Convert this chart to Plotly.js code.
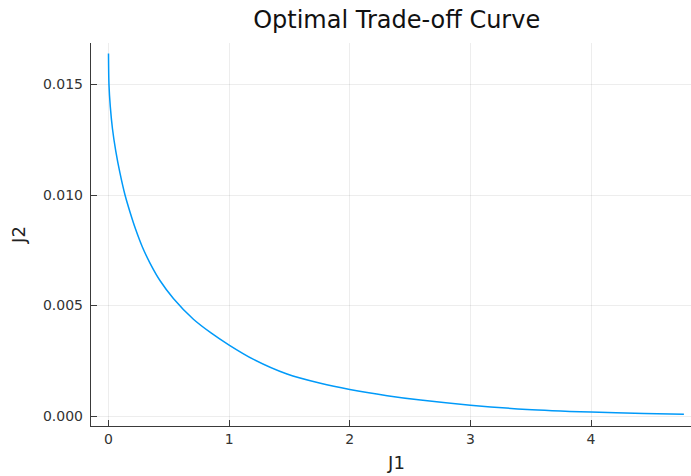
<!DOCTYPE html>
<html>
<head>
<meta charset="utf-8">
<script src="https://cdn.plot.ly/plotly-3.0.1.min.js"></script>
<style>
  html, body { margin: 0; padding: 0; overflow: hidden; background: #ffffff; }
  #chart { width: 702px; height: 476px; }
</style>
</head>
<body>
<div id="chart"></div>
<script>
// Trade-off between the two objectives along the Pareto front
const J1 = [0.000, 0.004, 0.015, 0.033, 0.060, 0.095, 0.137, 0.180, 0.225, 0.280, 0.345, 0.428,
            0.538, 0.704, 0.850, 1.000, 1.203, 1.480, 1.757, 2.000, 2.310, 2.587, 3.000, 3.470,
            4.000, 4.440, 4.770];
const J2 = [0.01640, 0.01500, 0.01400, 0.01300, 0.01200, 0.01100, 0.01000, 0.00920, 0.00845, 0.00766, 0.00691, 0.00612,
            0.00532, 0.00438, 0.00376, 0.00321, 0.00256, 0.00190, 0.00148, 0.00120, 0.00092, 0.00072, 0.00049, 0.00030,
            0.00018, 0.00011, 0.000075];

const xTicks = [0, 1, 2, 3, 4];
const yTicks = [0.000, 0.005, 0.010, 0.015];

const trace = {
  x: J1,
  y: J2,
  type: 'scatter',
  mode: 'lines',
  line: { color: '#009af9', width: 1.5, shape: 'spline', smoothing: 0.8 },
  hoverinfo: 'x+y',
  showlegend: false
};

const axisCommon = {
  showline: true,
  linecolor: '#3a3a3a',
  linewidth: 1.2,
  mirror: false,
  ticks: 'inside',
  ticklen: 6,
  tickwidth: 1,
  tickcolor: '#3a3a3a',
  showgrid: true,
  gridcolor: 'rgba(0,0,0,0.07)',
  gridwidth: 1,
  zeroline: false,
  tickfont: { family: 'DejaVu Sans', size: 14, color: '#333333' }
};

const titleFont = { family: 'DejaVu Sans', size: 18, color: '#222222' };

const layout = {
  width: 702,
  height: 476,
  margin: { l: 91, r: 0, t: 43, b: 50 },
  paper_bgcolor: '#ffffff',
  plot_bgcolor: '#ffffff',
  title: {
    text: 'Optimal Trade-off Curve',
    font: { family: 'DejaVu Sans', size: 24, color: '#111111' },
    x: 396.7 / 702,
    xref: 'container',
    xanchor: 'center',
    y: 1 - 20 / 476,
    yref: 'container',
    yanchor: 'middle'
  },
  xaxis: Object.assign({}, axisCommon, {
    range: [-0.145, 4.92],
    tickvals: xTicks,
    ticktext: xTicks.map(String),
    title: { text: 'J1', standoff: 10, font: titleFont }
  }),
  yaxis: Object.assign({}, axisCommon, {
    range: [-0.000452, 0.01688],
    tickvals: yTicks,
    ticktext: yTicks.map(v => v.toFixed(3)),
    ticklabelstandoff: 4,
    title: { text: 'J2', standoff: 12, font: titleFont }
  })
};

Plotly.newPlot('chart', [trace], layout, { displayModeBar: false, staticPlot: true });
</script>
</body>
</html>
